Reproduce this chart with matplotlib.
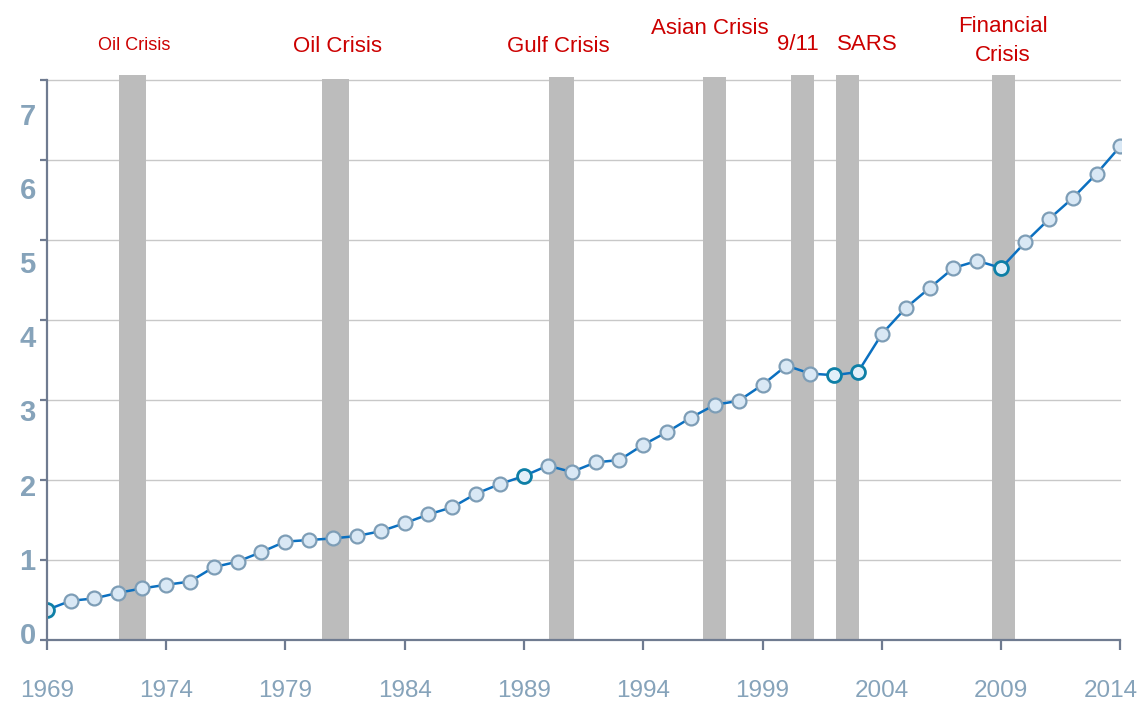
import matplotlib
matplotlib.use("Agg")
import matplotlib.pyplot as plt
import matplotlib.transforms as mtransforms

plt.rcParams['font.family'] = ['Liberation Sans', 'DejaVu Sans']

# ---- data ----
years = list(range(1969, 2015))
values = [0.375, 0.49, 0.52, 0.59, 0.645, 0.69, 0.73, 0.91, 0.98, 1.10,
          1.23, 1.25, 1.27, 1.30, 1.36, 1.46, 1.57, 1.66, 1.83, 1.95,
          2.05, 2.18, 2.10, 2.22, 2.25, 2.44, 2.60, 2.78, 2.94, 2.99,
          3.19, 3.43, 3.33, 3.31, 3.35, 3.825, 4.15, 4.40, 4.65, 4.74,
          4.65, 4.97, 5.26, 5.525, 5.83, 6.175]
highlight_years = [1969, 1989, 2002, 2003, 2009]

crisis_labels = ["Oil Crisis", "Oil Crisis", "Gulf Crisis", "Asian Crisis",
                 "9/11", "SARS", "Financial\nCrisis"]
crisis_start = [1972.02, 1980.53, 1990.04, 1996.49, 2000.18, 2002.07, 2008.6]
crisis_end = [1973.15, 1981.66, 1991.09, 1997.46, 2001.15, 2003.03, 2009.57]
crisis_top = [7.06, 7.01, 7.04, 7.04, 7.06, 7.06, 7.06]

xtick_years = [1969, 1974, 1979, 1984, 1989, 1994, 1999, 2004, 2009, 2014]
yticks = [0, 1, 2, 3, 4, 5, 6, 7]

# ---- styling ----
W, H = 1140, 701
fig = plt.figure(figsize=(W / 100, H / 100), dpi=100)
ax = fig.add_axes([46.7 / W, (H - 640) / H, (1120.5 - 46.7) / W, 565.6 / H])
ax.set_xlim(1969, 2014)
ax.set_ylim(0, 7.07)

axis_col = '#6f7b90'
label_col = '#86a3ba'
red = '#cc0000'

for s in ['top', 'right']:
    ax.spines[s].set_visible(False)
ax.spines['left'].set_bounds(0, 7)
for s in ['left', 'bottom']:
    ax.spines[s].set_color(axis_col)
    ax.spines[s].set_linewidth(1.6)
    ax.spines[s].set_zorder(5)

# gridlines
for v in yticks[1:]:
    ax.axhline(v, color='#c8c8c8', lw=1.0, zorder=0.5)

# crisis bars
for s, e, t in zip(crisis_start, crisis_end, crisis_top):
    ax.bar(s, t, width=e - s, align='edge', color='#bcbcbc', zorder=1,
           clip_on=False, linewidth=0)

# line + markers
ax.plot(years, values, color='#0b70c0', lw=1.8, zorder=3)
norm_x = [y for y in years if y not in highlight_years]
norm_v = [v for y, v in zip(years, values) if y not in highlight_years]
hi_v = [v for y, v in zip(years, values) if y in highlight_years]
ax.plot(norm_x, norm_v, 'o', ms=10, mfc='#d9e8f5', mec='#7d9db6', mew=1.6,
        zorder=4, linestyle='none')
ax.plot(highlight_years, hi_v, 'o', ms=10, mfc='#e2eff9', mec='#0e7fa6',
        mew=2.0, zorder=4, linestyle='none')

# ticks
ax.set_xticks(xtick_years)
ax.set_xticklabels([])
ax.set_yticks(yticks)
ax.set_yticklabels([])
ax.tick_params(axis='x', direction='out', length=7, width=1.6, color=axis_col)
ax.tick_params(axis='y', direction='out', length=5, width=1.6, color=axis_col)

# x labels (manual, last one clamped to figure edge)
for i, yr in enumerate(xtick_years):
    ha = 'center'
    tr = ax.get_xaxis_transform()
    if i == len(xtick_years) - 1:
        ha = 'right'
        tr = tr + mtransforms.ScaledTranslation(17 / 100, 0, fig.dpi_scale_trans)
    ax.text(yr, 0, str(yr),
            transform=tr + mtransforms.ScaledTranslation(0, -51 / 100, fig.dpi_scale_trans),
            ha=ha, va='center', fontsize=17.5, color=label_col, clip_on=False)

# y labels (offset from gridlines as in reference)
ytr = mtransforms.blended_transform_factory(ax.transAxes, ax.transData) + \
    mtransforms.ScaledTranslation(-11 / 100, 0, fig.dpi_scale_trans)
for k in yticks:
    ax.text(0, 0.05 + 0.9275 * k, str(k), transform=ytr, ha='right', va='center',
            fontsize=21, fontweight='bold', color=label_col, clip_on=False)

# crisis annotations
ann_x = [1972.66, 1981.17, 1990.43, 1996.8, 2000.49, 2003.38, 2009.08]
ann_y = [45, 47, 46, 29, 45, 45, 41]
ann_fs = [13, 16, 16, 16, 16, 16, 16]
for lab, xv, yp, fs in zip(crisis_labels, ann_x, ann_y, ann_fs):
    tr = mtransforms.blended_transform_factory(ax.transData, fig.transFigure)
    ax.text(xv, 1 - yp / H, lab, transform=tr, ha='center', va='center',
            fontsize=fs, color=red, linespacing=1.45, clip_on=False)

fig.savefig('out.png', dpi=100)
